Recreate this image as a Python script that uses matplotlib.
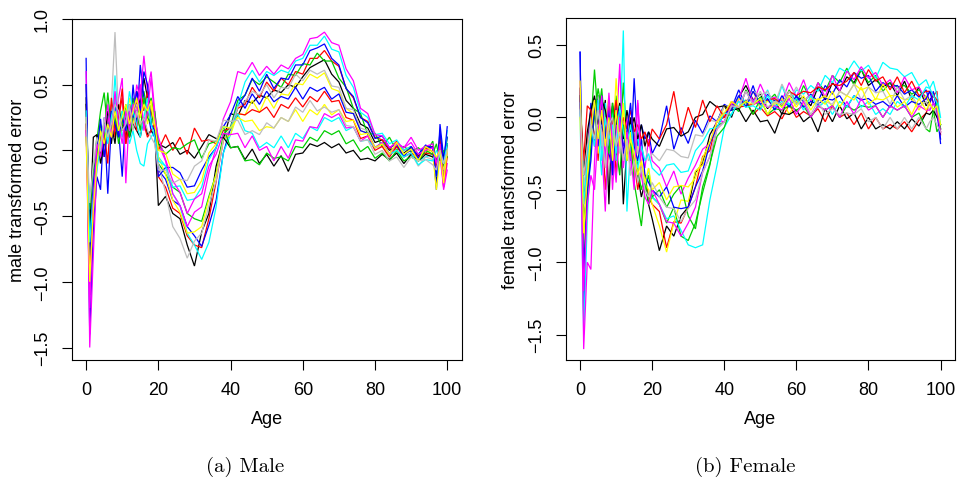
import matplotlib.pyplot as plt
import numpy as np

# age grid: every year up to 20, every 2 years up to 96, then every year to 100
ages = list(range(0, 21)) + list(range(22, 97, 2)) + [97, 98, 99, 100]

# curves, values in units of 0.01
# rows: ages 0-20 / 22-58 / 60-96 / 97-100
male_x100 = [
    [40, -110, -30, 12, -5, 10, 25, 5, 30, 15, 20, 10, 25, 30, 45, 35, 55, 40, 30, 15, -42,
     -35, -48, -52, -72, -88, -62, -48, -12, 8, 28, 26, 38, 36, 42, 40, 46, 44, 50, 48,
     56, 63, 66, 69, 58, 52, 38, 32, 20, 17, 6, 8, 0, 3, -2, 2, -4, 1, 3,
     -25, 10, -20, 5],
    [30, -90, -50, 5, 10, -5, 20, 35, 10, 25, 40, 5, 30, 20, 35, 50, 30, 45, 25, 20, -20,
     -28, -44, -48, -65, -72, -74, -52, -24, 8, 16, 32, 35, 48, 40, 52, 45, 55, 50, 60,
     58, 70, 70, 76, 68, 64, 47, 40, 25, 22, 10, 8, 1, 7, 0, 3, -5, 2, -1,
     -15, 5, -28, 0],
    [50, -70, -20, 8, 30, 44, 15, 25, 40, 10, 30, 20, 15, 40, 25, 35, 45, 30, 40, 25, -10,
     -18, -28, -32, -48, -52, -54, -35, -18, 12, 18, 38, 42, 54, 50, 56, 52, 48, 58, 57,
     66, 65, 74, 68, 68, 55, 48, 32, 28, 12, 13, 3, 10, 0, 3, -1, 2, -3, 7,
     -10, 8, -15, 10],
    [70, -140, -60, -20, -30, 25, -33, 20, 35, 15, -20, 30, 10, 50, 20, 65, 40, 30, 15, 10, -15,
     -22, -38, -42, -58, -65, -73, -57, -38, -2, 17, 34, 42, 55, 45, 58, 47, 55, 54, 65,
     65, 76, 78, 81, 70, 65, 47, 41, 25, 21, 9, 11, 2, 5, -3, 0, -3, 4, 2,
     -30, 20, -5, 10],
    [20, -60, -40, -10, 5, 10, 30, 15, 57, 20, 10, 25, 5, 15, 0, -10, -12, 5, 10, 15, -5,
     -12, -33, -42, -63, -72, -83, -70, -43, -2, 12, 34, 52, 61, 52, 60, 57, 61, 59, 68,
     70, 80, 80, 87, 77, 75, 57, 48, 29, 25, 12, 13, 5, 8, 0, 3, -8, -5, -3,
     -20, 0, -10, 15],
    [60, -150, -80, -10, 15, 5, 25, 10, 20, 40, 55, -25, 30, 20, 50, 40, 72, 45, 60, 30, 5,
     -8, -33, -42, -58, -47, -43, -17, 2, 24, 37, 60, 58, 67, 57, 64, 58, 65, 62, 70,
     73, 85, 86, 90, 82, 80, 62, 53, 32, 28, 12, 11, 2, 6, 2, 10, 0, 3, 5,
     -15, -5, -28, -10],
    [25, -80, -30, 0, 10, 20, 15, 30, 20, 35, 15, 25, 40, 20, 30, 25, 38, 20, 35, 10, -5,
     -18, -38, -47, -63, -62, -58, -37, -18, 8, 12, 28, 27, 38, 29, 41, 32, 43, 42, 51,
     50, 58, 55, 59, 47, 45, 32, 28, 15, 13, 2, 5, -3, 6, -3, 1, -8, 1, -3,
     -30, -5, -15, 0],
    [15, -50, -20, 5, 15, 20, 10, 35, 90, 25, 20, 30, 15, 25, 35, 30, 20, 35, 25, 20, -10,
     -32, -58, -67, -82, -69, -63, -42, -23, 8, 17, 33, 37, 45, 42, 50, 40, 48, 47, 58,
     53, 61, 58, 61, 49, 48, 32, 31, 17, 15, 2, 3, -6, -2, -10, -2, -12, -5, -7,
     -10, 5, -20, 0],
    [35, -60, 10, 12, -10, 5, 30, 20, 5, 35, 15, 25, 10, 20, 15, 10, 25, 12, 15, 12, 5,
     2, 6, -3, 0, -6, 3, 12, 9, 10, 2, 3, -7, 1, -10, -3, -12, -4, -16, -3,
     -2, 5, 3, 6, 2, 5, -2, 0, -7, -6, -8, -3, -7, -2, -10, -3, -8, -3, -5,
     -8, 0, -5, 5],
    [20, -100, -40, -5, 10, 15, -10, 40, 15, 25, 47, 5, 20, 35, 15, 30, 20, 10, 15, 20, 0,
     12, 0, 10, -3, 17, 7, 8, 5, 15, 17, 28, 27, 31, 29, 33, 25, 35, 32, 40,
     33, 41, 37, 45, 37, 38, 25, 23, 9, 11, 0, 3, -5, 3, -5, -2, -5, -2, -3,
     -12, 10, -25, -5],
    [10, -45, -15, -5, 20, 10, 44, 15, 25, 5, 20, 35, 10, 25, 30, 15, 40, 25, 20, 30, 5,
     -3, 2, 1, 5, 8, -6, 5, 7, 18, 2, 3, -8, -7, -11, -2, -6, -5, -8, 3,
     2, 10, 7, 15, 12, 15, 5, 8, -1, 3, -6, -2, -8, 0, -8, -5, -8, 0, -3,
     5, -8, 0, -5],
    [50, -80, -25, 0, 24, -5, 15, 30, 20, 10, 25, 15, 35, 25, 45, 30, 60, 50, 20, 15, -20,
     -13, -13, -17, -28, -27, -15, -5, 2, 18, 27, 41, 32, 43, 35, 45, 37, 41, 39, 48,
     39, 48, 45, 48, 39, 43, 29, 28, 15, 13, 2, 6, -3, 5, -5, 3, -6, 3, 2,
     -20, 15, -10, 18],
    [30, -70, -35, -15, 5, 20, 5, 25, 40, 15, 30, 20, 45, 30, 20, 10, 25, 40, 20, 10, -8,
     -12, -28, -27, -38, -37, -28, -7, 2, 18, 17, 28, 15, 13, 2, 6, 2, 11, 2, 13,
     9, 18, 15, 25, 22, 25, 15, 18, 7, 8, 2, 6, -3, 0, -5, -2, -11, -7, -8,
     0, -5, -10, 5],
    [15, -120, -40, 5, -5, 15, 35, 10, 45, 20, 5, 30, 15, 35, 25, 50, 15, 30, 55, 25, 10,
     -7, -23, -32, -48, -37, -33, -12, -3, 13, 12, 13, 2, 11, 0, 3, -8, 3, -6, 8,
     7, 18, 17, 28, 25, 28, 17, 18, 7, 11, 2, 6, -3, 5, 2, 6, -3, 0, 2,
     -10, 5, -30, -15],
    [10, -100, -45, -10, 15, 5, 20, 10, 30, 15, 25, 35, 20, 30, 40, 25, 35, 30, 38, 20, 0,
     -2, -18, -22, -33, -32, -23, -2, 5, 18, 17, 25, 22, 23, 15, 18, 17, 25, 22, 31,
     22, 31, 27, 35, 27, 31, 22, 23, 12, 13, 2, 5, -3, 6, -3, 1, -8, 3, -1,
     -5, 0, -25, 0],
    [25, -40, -10, 10, 0, 25, 10, 20, 35, 30, 15, 20, 35, 15, 30, 20, 25, 15, 10, 5, -15,
     -15, -25, -22, -23, -12, -8, 8, 7, 23, 22, 23, 12, 15, 12, 21, 17, 25, 22, 33,
     29, 38, 30, 33, 29, 31, 19, 18, 7, 8, -3, 0, -8, -5, -13, -5, -8, -7, -11,
     -15, 0, -10, 0],
]

female_x100 = [
    [20, -80, -40, -10, 10, 15, -5, 12, -60, 10, -30, 5, -60, -20, 0, -30, -40, -55, -45, -60, -70,
     -92, -75, -82, -68, -62, -38, -32, -12, -3, 8, 0, 14, 22, 12, 16, 6, 12, 2, 15,
     12, 14, 8, 21, 12, 24, 18, 28, 24, 33, 22, 26, 21, 24, 15, 25, 12, 21, 8,
     12, 15, 10, -8],
    [10, -60, -20, 5, 8, -30, 10, -50, -20, 5, -40, -10, 0, -25, -15, -30, -50, -35, -40, -55, -60,
     -65, -90, -72, -73, -62, -48, -27, -23, -2, 0, 9, 6, 12, 2, 7, 1, 4, -1, 9,
     0, 4, 1, 6, -3, 8, 0, 3, -5, 3, -8, 0, -8, -5, -8, -3, -10, -2, 3,
     10, 15, 18, -12],
    [15, -100, -60, -5, 33, 0, 20, -10, 5, -35, 15, -20, 24, -15, -30, -10, -35, -50, -40, -60, -55,
     -60, -73, -62, -82, -85, -73, -52, -33, -6, -3, 9, 4, 19, 9, 14, 11, 16, 7, 19,
     9, 22, 12, 24, 18, 29, 24, 34, 22, 33, 24, 29, 18, 24, 21, 22, 16, 19, 14,
     10, 5, -10, -5],
    [45, -140, -30, 10, -20, 15, -10, 5, -25, -35, 10, -10, -20, -5, -30, 27, -20, -5, -15, -10, -25,
     -15, 8, -22, -7, -18, -2, -11, 1, -3, 9, 6, 19, 8, 22, 6, 16, 11, 12, 8,
     14, 11, 16, 11, 22, 16, 26, 21, 31, 27, 29, 18, 24, 21, 22, 16, 19, 14, 19,
     10, 18, 5, -18],
    [5, -150, -70, -20, 5, -10, -40, 10, -20, 5, -30, -15, 60, -65, -20, -35, -10, -40, -50, -35, -55,
     -60, -70, -68, -78, -88, -90, -88, -57, -33, -7, 2, 14, 11, 12, 8, 19, 6, 22, 8,
     19, 16, 22, 18, 29, 24, 34, 31, 39, 32, 36, 27, 38, 34, 33, 28, 31, 22, 26,
     20, 25, 15, 0],
    [25, -160, -100, -105, -30, 10, -20, -65, 5, -50, -10, 37, -30, 0, -40, -20, 10, -25, -35, -15, -30,
     -35, -48, -37, -53, -42, -33, -22, -18, -2, -3, 9, 12, 27, 10, 23, 12, 14, 11, 24,
     14, 26, 11, 24, 14, 29, 18, 32, 26, 35, 27, 31, 22, 26, 17, 28, 19, 21, 12,
     18, 10, 5, -10],
    [0, -90, -45, -15, 5, -25, 10, -5, 15, -20, 27, -10, 5, -25, -10, -40, -20, -30, -45, -50, -60,
     -75, -93, -73, -57, -58, -37, -33, -17, -8, 8, 5, 13, 9, 18, 7, 11, 9, 13, 2,
     11, 9, 13, 12, 15, 7, 18, 15, 23, 19, 21, 12, 23, 15, 15, 12, 13, 5, 15,
     10, 5, 8, -5],
    [30, -50, -30, 0, 10, 15, -20, -5, 10, -15, 5, -25, 0, -10, -20, -5, -25, -15, -20, -30, -25,
     -30, -22, -23, -27, -28, -12, -13, -2, -3, 8, 7, 11, 9, 18, 15, 18, 9, 23, 12,
     21, 12, 15, 7, 11, 9, 18, 15, 23, 12, 21, 17, 18, 9, 21, 12, 15, 7, 11,
     5, 10, 0, -5],
    [15, -40, -10, 5, 15, -5, 12, 5, -10, 8, -5, 10, -15, 5, -10, 0, -15, -5, -20, -10, -15,
     -20, -8, -7, -13, -10, 0, 2, 11, 7, 8, 5, 6, -3, 5, -3, -2, -11, 3, 2,
     5, -3, 1, -10, 6, -3, 8, -1, 3, -8, 0, -8, -5, -8, -3, -8, -1, -6, 3,
     2, 5, 0, -5],
    [10, -30, 8, 5, -15, 10, 0, -10, 8, -5, 12, -15, 0, -8, 5, -10, -5, -15, -10, -20, -8,
     -15, -5, 18, -12, 7, -7, 12, -3, 8, 0, 11, 7, 8, 9, 11, 12, 13, 9, 18,
     15, 18, 17, 21, 19, 23, 22, 25, 31, 22, 33, 25, 28, 19, 28, 17, 25, 15, 18,
     18, 15, 12, -10],
    [20, -70, -55, -20, 0, 20, 5, -10, -25, 10, -20, -40, -5, -30, -15, -45, -60, -75, -50, -40, -55,
     -50, -62, -53, -47, -68, -77, -48, -32, -13, -7, 8, 7, 11, 2, 13, 2, 6, 5, 8,
     5, 8, 0, 8, 5, 8, 0, 8, 5, 8, 7, 8, 0, 8, 5, 8, 0, 3, -8,
     -10, 5, 10, -8],
    [45, -110, -50, -30, 10, -20, 15, -15, 5, -40, 0, 5, -25, -10, 10, -20, -30, -15, -40, -45, -50,
     -55, -48, -62, -63, -62, -48, -37, -18, -7, 3, 5, 15, 7, 18, 9, 13, 5, 15, 7,
     15, 7, 11, 9, 13, 12, 15, 7, 15, 12, 13, 9, 11, 7, 15, 7, 11, 9, 13,
     18, 10, 5, -15],
    [10, -60, -30, -5, -20, 12, -30, 0, -15, -5, -25, 8, -10, -20, -5, -25, -35, -20, -30, -25, -35,
     -40, -33, -32, -38, -37, -23, -17, -8, -7, 3, 2, 11, 7, 8, 5, 15, 7, 11, 9,
     13, 5, 15, 7, 11, 2, 11, 7, 15, 7, 11, 2, 6, 2, 11, 7, 15, 12, 21,
     20, 15, 10, -5],
    [20, -120, -60, -40, -50, -10, 15, -30, 17, -20, -45, 0, -35, -10, -25, -50, 12, -40, -55, -60, -50,
     -60, -72, -73, -82, -73, -62, -38, -27, -8, -3, 8, 7, 18, 9, 11, 7, 8, 5, 13,
     2, 11, 0, 8, 5, 8, 0, 11, 2, 13, 5, 8, 0, 8, 5, 8, 0, 8, 5,
     5, 10, 5, -10],
    [25, -80, -40, -10, 12, -15, 5, -20, 0, -30, 5, -20, 10, -30, -15, -25, -40, -30, -45, -35, -50,
     -45, -57, -48, -47, -48, -42, -28, -17, -3, 3, 11, 7, 11, 9, 13, 2, 11, 7, 15,
     7, 15, 5, 13, 9, 18, 7, 15, 12, 21, 9, 13, 12, 15, 7, 11, 2, 13, 5,
     10, 5, 8, -5],
    [5, -40, -20, -5, -15, 5, -10, -35, -5, 0, -20, -10, -30, -15, -40, -30, -45, -35, -50, -55, -45,
     -55, -62, -63, -72, -63, -57, -38, -27, -8, -3, 8, 7, 18, 9, 18, 7, 11, 9, 18,
     9, 13, 2, 11, 2, 6, 2, 3, 2, 6, -3, 0, -8, 0, -8, 0, -8, 0, -8,
     -3, 0, -5, -10],
]

# old R default palette, matplot cycles through it
palette = ["black", "#FF0000", "#00CD00", "#0000FF",
           "#00FFFF", "#FF00FF", "#FFFF00", "#BEBEBE"]

x_ticks = [0, 20, 40, 60, 80, 100]
male_y_ticks = [-1.5, -1.0, -0.5, 0.0, 0.5, 1.0]
female_y_ticks = [-1.5, -1.0, -0.5, 0.0, 0.5]


def draw_panel(ax, curves, y_ticks, y_lim, y_label):
    for i, row in enumerate(curves):
        ax.plot(ages, np.array(row) / 100.0, color=palette[i % len(palette)],
                lw=0.9, solid_joinstyle="miter")
    ax.set_xlim(-4, 104)
    ax.set_ylim(y_lim)
    ax.set_xticks(x_ticks, [str(t) for t in x_ticks])
    ax.set_yticks(y_ticks, [f"{t:.1f}".replace("-", "\u2212") for t in y_ticks])
    for lab in ax.get_yticklabels():
        lab.set_rotation(90)
        lab.set_va("center")
    ax.tick_params(direction="out", length=7, width=0.8, labelsize=13, pad=8)
    for s in ax.spines.values():
        s.set_linewidth(0.8)
    ax.set_xlabel("Age", fontsize=13, labelpad=9)
    ax.set_ylabel(y_label, fontsize=13, labelpad=6)


plt.rcParams["font.family"] = ["Liberation Sans", "DejaVu Sans"]
fig = plt.figure(figsize=(9.62, 4.81), dpi=100)

ax1 = fig.add_axes([0.0745, 0.2495, 0.4054, 0.709])
draw_panel(ax1, male_x100, male_y_ticks, (-1.595, 1.0), "male transformed error")

ax2 = fig.add_axes([0.588, 0.2495, 0.4047, 0.711])
draw_panel(ax2, female_x100, female_y_ticks, (-1.675, 0.686), "female transformed error")

fig.text(245 / 962, 1 - 467 / 481, "(a) Male", fontfamily="cmr10",
         fontsize=15, ha="center", va="center")
fig.text(745 / 962, 1 - 467 / 481, "(b) Female", fontfamily="cmr10",
         fontsize=15, ha="center", va="center")

fig.savefig("out.png", dpi=100)
